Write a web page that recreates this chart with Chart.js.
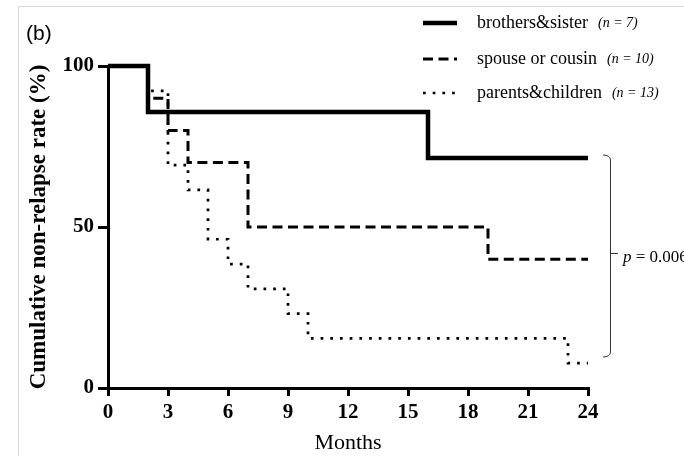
<!DOCTYPE html>
<html>
<head>
<meta charset="utf-8">
<script src="https://cdn.jsdelivr.net/npm/chart.js@4.4.0/dist/chart.umd.min.js"></script>
<style>
  html, body { margin: 0; padding: 0; background: #fff; }
  #wrap { width: 684px; height: 456px; position: relative; }
</style>
</head>
<body>
<div id="wrap"><canvas id="kmChart" width="684" height="456"></canvas></div>
<script>
// Kaplan-Meier curves: time (months) and cumulative non-relapse rate (%)
var brothersTimes = [0, 2, 16, 24];
var brothersRate = [100, 85.7, 71.4, 71.4];

var spouseTimes = [0, 2, 3, 4, 7, 19, 24];
var spouseRate = [100, 90, 80, 70, 50, 40, 40];

var parentsTimes = [0, 2, 3, 4, 5, 6, 7, 9, 10, 23, 24];
var parentsRate = [100, 92.3, 69.2, 61.5, 46.2, 38.5, 30.8, 23.1, 15.4, 7.7, 7.7];

var groupNames = ['brothers&sister', 'spouse or cousin', 'parents&children'];
var groupN = ['(n = 7)', '(n = 10)', '(n = 13)'];

var xTicks = [0, 3, 6, 9, 12, 15, 18, 21, 24];
var yTicks = [0, 50, 100];

function toPoints(times, rates) {
  return times.map(function(t, i) { return { x: t, y: rates[i] }; });
}

var lineStyles = [
  { width: 4.5, dash: [] },
  { width: 3, dash: [10, 5.5] },
  { width: 2.7, dash: [2.7, 7] }
];

// legend, panel letter, p-value bracket and frame
var extras = {
  id: 'extras',
  afterDraw: function(chart) {
    var c = chart.ctx;
    c.save();

    // light frame
    c.strokeStyle = '#d9d9d9';
    c.lineWidth = 1;
    c.beginPath();
    c.moveTo(18.5, 460);
    c.lineTo(18.5, 6.5);
    c.lineTo(690, 6.5);
    c.stroke();

    // (b)
    c.fillStyle = '#000';
    c.font = '21px "Liberation Sans"';
    c.textBaseline = 'middle';
    c.textAlign = 'left';
    c.fillText('(b)', 26, 34);

    // legend
    var rowsY = [23, 59, 93];
    for (var i = 0; i < 3; i++) {
      var y = rowsY[i];
      c.strokeStyle = '#000';
      c.lineWidth = lineStyles[i].width;
      c.setLineDash(lineStyles[i].dash);
      c.lineCap = 'butt';
      c.beginPath();
      c.moveTo(423, y);
      c.lineTo(457, y);
      c.stroke();
      c.setLineDash([]);
      c.font = '18px "Liberation Serif"';
      c.fillText(groupNames[i], 477, y);
      var w = c.measureText(groupNames[i]).width;
      c.font = 'italic 14px "Liberation Serif"';
      c.fillText(groupN[i], 477 + w + 10, y);
    }

    // bracket
    c.strokeStyle = '#333';
    c.lineWidth = 1;
    c.beginPath();
    c.moveTo(603, 155);
    c.quadraticCurveTo(610, 155, 610.5, 160);
    c.lineTo(610.5, 352);
    c.quadraticCurveTo(610, 357, 603, 357);
    c.moveTo(611, 253.5);
    c.lineTo(618, 253.5);
    c.stroke();

    // p-value
    c.fillStyle = '#000';
    c.font = 'italic 17px "Liberation Serif"';
    c.fillText('p', 623, 258);
    var pw = c.measureText('p').width;
    c.font = '17px "Liberation Serif"';
    c.fillText(' = 0.006', 623 + pw, 258);

    c.restore();
  }
};

var ctx = document.getElementById('kmChart').getContext('2d');
var kmChart = new Chart(ctx, {
  type: 'line',
  data: {
    datasets: [
      { label: groupNames[0], data: toPoints(brothersTimes, brothersRate),
        borderWidth: lineStyles[0].width, borderDash: lineStyles[0].dash },
      { label: groupNames[1], data: toPoints(spouseTimes, spouseRate),
        borderWidth: lineStyles[1].width, borderDash: lineStyles[1].dash },
      { label: groupNames[2], data: toPoints(parentsTimes, parentsRate),
        borderWidth: lineStyles[2].width, borderDash: lineStyles[2].dash }
    ].map(function(d) {
      d.borderColor = '#000';
      d.backgroundColor = '#000';
      d.stepped = 'before';
      d.pointRadius = 0;
      d.fill = false;
      d.clip = false;
      d.borderCapStyle = 'butt';
      d.borderJoinStyle = 'miter';
      return d;
    })
  },
  options: {
    responsive: false,
    animation: false,
    events: [],
    layout: { padding: { left: 0, top: 66, right: 96, bottom: 0 } },
    plugins: { legend: { display: false }, tooltip: { enabled: false } },
    scales: {
      x: {
        type: 'linear',
        min: 0,
        max: 24,
        afterBuildTicks: function(scale) {
          scale.ticks = xTicks.map(function(v) { return { value: v }; });
        },
        afterFit: function(scale) { scale.height = 68; },
        grid: { drawOnChartArea: false, drawTicks: true, tickLength: 8, color: '#000', lineWidth: 3 },
        border: { color: '#000', width: 3 },
        ticks: {
          color: '#000',
          padding: 4,
          maxRotation: 0,
          font: { family: 'Liberation Serif', weight: 'bold', size: 21 }
        },
        title: {
          display: true,
          text: 'Months',
          color: '#000',
          padding: { top: 0, bottom: 0 },
          font: { family: 'Liberation Serif', size: 22, lineHeight: 1.2 }
        }
      },
      y: {
        min: 0,
        max: 100,
        afterBuildTicks: function(scale) {
          scale.ticks = yTicks.map(function(v) { return { value: v }; });
        },
        afterFit: function(scale) { scale.width = 108; },
        grid: { drawOnChartArea: false, drawTicks: true, tickLength: 10, color: '#000', lineWidth: 3 },
        border: { color: '#000', width: 3 },
        ticks: {
          color: '#000',
          padding: 4,
          font: { family: 'Liberation Serif', weight: 'bold', size: 21 }
        },
        title: {
          display: true,
          text: 'Cumulative non-relapse rate (%)',
          color: '#000',
          padding: { top: 25, bottom: 0 },
          font: { family: 'Liberation Serif', weight: 'bold', size: 23, lineHeight: 1.2 }
        }
      }
    }
  },
  plugins: [extras]
});
</script>
</body>
</html>
